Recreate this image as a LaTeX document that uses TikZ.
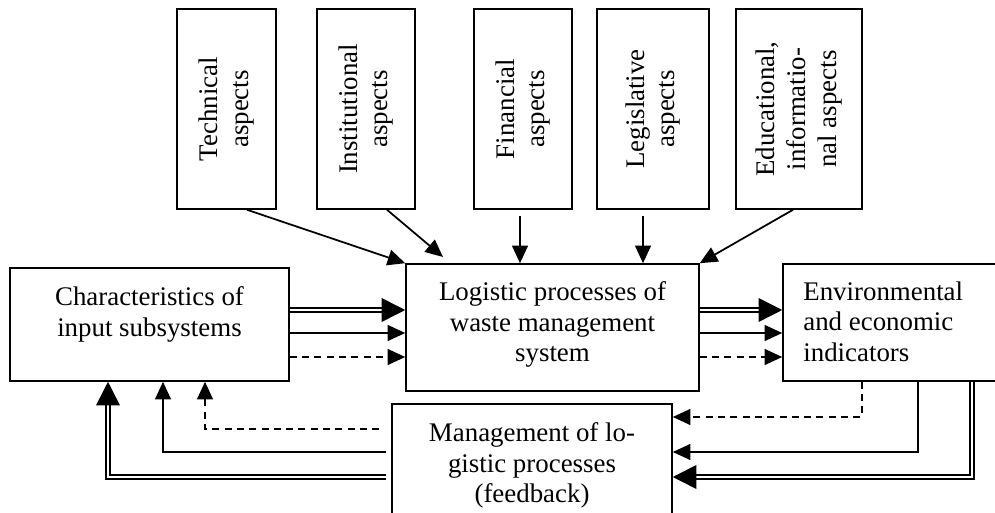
\documentclass[tikz,border=0pt]{standalone}
\usepackage{fontspec}
\setmainfont{Liberation Serif}
\usetikzlibrary{arrows.meta,positioning,calc}

\tikzset{
  box/.style={draw, line width=0.9pt, inner sep=0pt},
  aspectbox/.style={box, minimum height=4cm},
  txt/.style={inner sep=0pt, align=center, font=\fontsize{15.3}{17.5}\selectfont},
  vtxt/.style={txt, rotate=90},
  line/.style={line width=1pt},
  arr/.style={line, -{Triangle[length=10pt,width=9pt]}},
  dbl/.style={line width=0.9pt, double, double distance=1.4pt, -{Triangle[length=13.5pt,width=13.5pt]}},
  dsh/.style={dash pattern=on 4pt off 3pt}
}

\begin{document}
\begin{tikzpicture}[x=0.02cm, y=-0.02cm]
\useasboundingbox (0,0) rectangle (995,513);
\clip (0,0) rectangle (995,513);

% aspects on top
\node[aspectbox, minimum width=1.98cm] (tech) at (226.5,109) {};
\node[vtxt] (techtxt) at (tech) {Technical\\aspects};
\node[aspectbox, minimum width=1.96cm] (inst) at (366,109) {};
\node[vtxt] (insttxt) at (inst) {Institutional\\aspects};
\node[aspectbox, minimum width=1.96cm] (fin) at (523,109) {};
\node[vtxt] (fintxt) at (fin) {Financial\\aspects};
\node[aspectbox, minimum width=2.24cm] (leg) at (653,109) {};
\node[vtxt] (legtxt) at (leg) {Legislative\\aspects};
\node[aspectbox, minimum width=2.52cm] (edu) at (799,109) {};
\node[vtxt] (edutxt) at (edu) {Educational,\\informatio-\\nal aspects};

% main boxes
\node[box, minimum width=5.58cm, minimum height=2.26cm] (char) at (149.5,324.5) {};
\node[txt, anchor=north] (chartxt) at (149.5,286) {Characteristics of\\input subsystems};
\node[box, minimum width=5.86cm, minimum height=2.54cm] (logi) at (552.5,327.5) {};
\node[txt, anchor=north] (logitxt) at (552.5,281) {Logistic processes of\\waste management\\system};
\node[box, minimum width=4.54cm, minimum height=2.34cm] (env) at (896.5,322.5) {};
\node[txt, align=left, anchor=north west] (envtxt) at (803,281) {Environmental\\and economic\\indicators};
\node[box, minimum width=5.6cm, minimum height=2.72cm] (mgmt) at (532,472) {};
\node[txt, anchor=north] (mgmttxt) at (532,422) {Management of lo-\\gistic processes\\(feedback)};

% influences of the aspects
\draw[arr] (tech.south -| 247,0) -- (logi.north west);
\draw[arr] (inst.south -| 387,0) -- (443,257);
\draw[arr] ($(fin.south -| 520,0)+(0,6)$) -- (logi.north -| 520,0);
\draw[arr] ($(leg.south -| 643,0)+(0,6)$) -- (logi.north -| 643,0);
\draw[arr] (edu.south -| 793,0) -- (logi.north east);

% flows to the right
\draw[dbl] (char.east |- 0,310) -- (logi.west |- 0,310);
\draw[arr] (char.east |- 0,333) -- (logi.west |- 0,333);
\draw[arr, dsh] (char.east |- 0,357) -- (logi.west |- 0,357);
\draw[dbl] (logi.east |- 0,310) -- (env.west |- 0,310);
\draw[arr] (logi.east |- 0,333) -- (env.west |- 0,333);
\draw[arr, dsh] (logi.east |- 0,357) -- (env.west |- 0,357);

% feedback
\draw[arr, dsh] (env.south -| 862,0) |- (mgmt.east |- 0,417);
\draw[arr] (env.south -| 918,0) |- (mgmt.east |- 0,452);
\draw[dbl] (env.south -| 972,0) |- (mgmt.east |- 0,477);
\draw[arr, dsh] ($(mgmt.west |- 0,429)+(-12,0)$) -| (char.south -| 205,0);
\draw[arr] ($(mgmt.west |- 0,452)+(-5,0)$) -| (char.south -| 163,0);
\draw[dbl] ($(mgmt.west |- 0,477)+(-5,0)$) -| (char.south -| 108,0);
\end{tikzpicture}
\end{document}
